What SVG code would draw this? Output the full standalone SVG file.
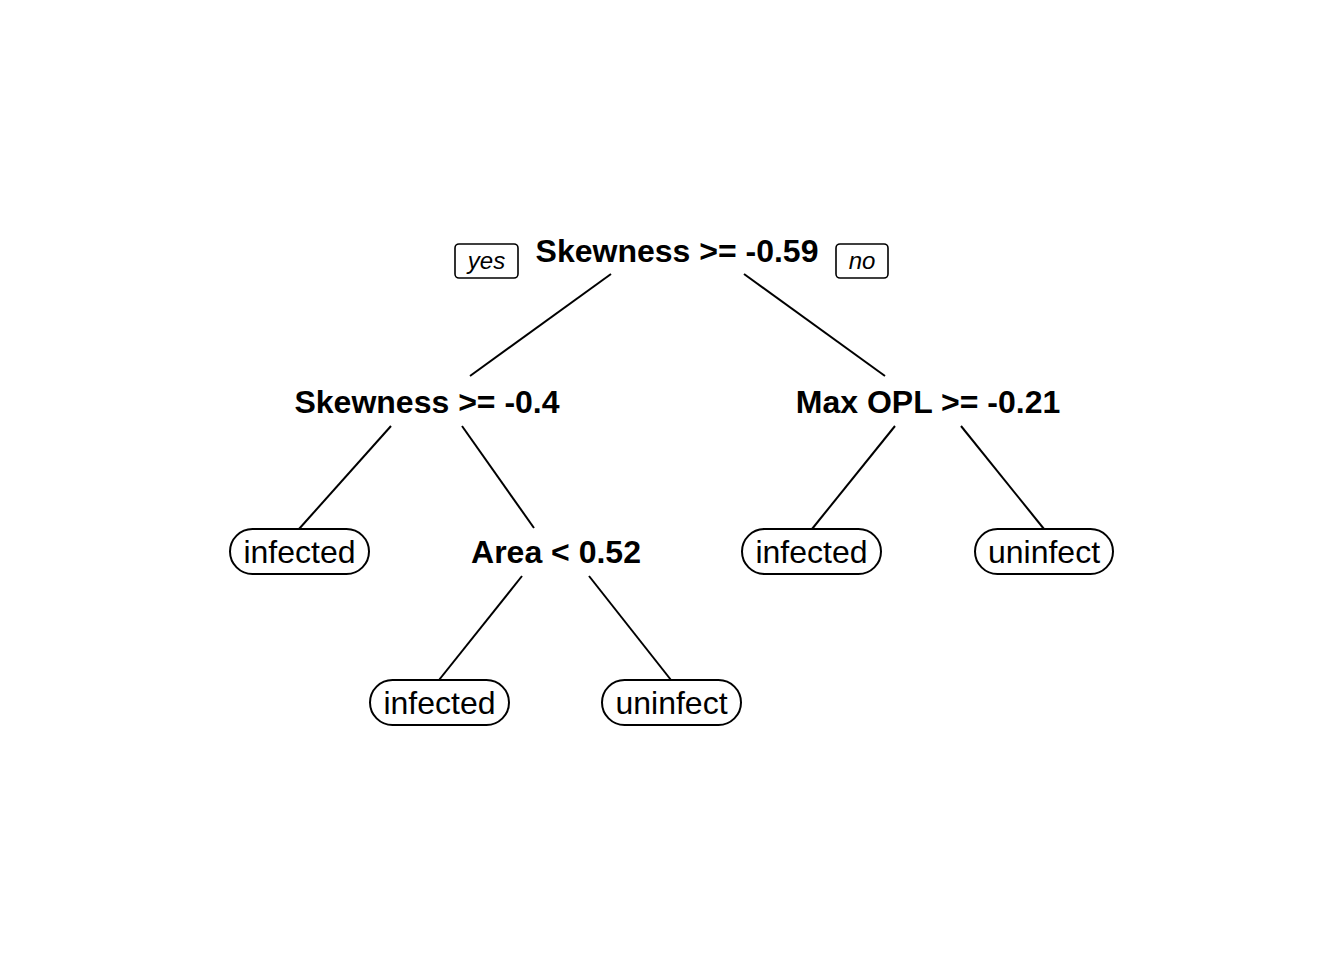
<svg xmlns="http://www.w3.org/2000/svg" width="1344" height="960" viewBox="0 0 1344 960">
<style>
.split{font-family:"Liberation Sans",Arial,sans-serif;font-weight:bold;font-size:32px;text-anchor:middle;fill:#000}
.leaf text{font-family:"Liberation Sans",Arial,sans-serif;font-size:32px;text-anchor:middle;fill:#000}
.leaf rect{fill:#fff;stroke:#000;stroke-width:2}
.lab rect{fill:#fff;stroke:#000;stroke-width:1.6}
.lab text{font-family:"Liberation Sans",Arial,sans-serif;font-style:italic;font-size:24px;text-anchor:middle;fill:#000}
.edges line{stroke:#000;stroke-width:2}
</style>
<rect width="1344" height="960" fill="#fff"/>
<g class="edges" id="connectors">
<line x1="611" y1="274" x2="470" y2="376"/>
<line x1="744" y1="274" x2="885" y2="376"/>
<line x1="391" y1="426" x2="299" y2="529"/>
<line x1="462" y1="426" x2="534" y2="528"/>
<line x1="895" y1="426" x2="812" y2="529"/>
<line x1="961" y1="426" x2="1044" y2="529"/>
<line x1="522" y1="576" x2="439" y2="680"/>
<line x1="589" y1="576" x2="671" y2="680"/>
</g>
<g id="yes" class="lab"><rect x="455" y="244" width="63" height="34" rx="4"/><text x="486.5" y="269">yes</text></g>
<g id="no" class="lab"><rect x="836" y="244" width="52" height="34" rx="4"/><text x="862" y="269">no</text></g>
<g id="n1"><text class="split" x="677" y="262">Skewness &gt;= -0.59</text></g>
<g id="n2"><text class="split" x="427" y="413">Skewness &gt;= -0.4</text></g>
<g id="n3"><text class="split" x="928" y="413">Max OPL &gt;= -0.21</text></g>
<g id="n5"><text class="split" x="556" y="563">Area &lt; 0.52</text></g>
<g id="n4" class="leaf"><rect x="230" y="529" width="139" height="45" rx="22.5"/><text x="299.5" y="563">infected</text></g>
<g id="n6" class="leaf"><rect x="742" y="529" width="139" height="45" rx="22.5"/><text x="811.5" y="563">infected</text></g>
<g id="n7" class="leaf"><rect x="975" y="529" width="138" height="45" rx="22.5"/><text x="1044" y="563">uninfect</text></g>
<g id="n8" class="leaf"><rect x="370" y="680" width="139" height="45" rx="22.5"/><text x="439.5" y="714">infected</text></g>
<g id="n9" class="leaf"><rect x="602" y="680" width="139" height="45" rx="22.5"/><text x="671.5" y="714">uninfect</text></g>
</svg>
